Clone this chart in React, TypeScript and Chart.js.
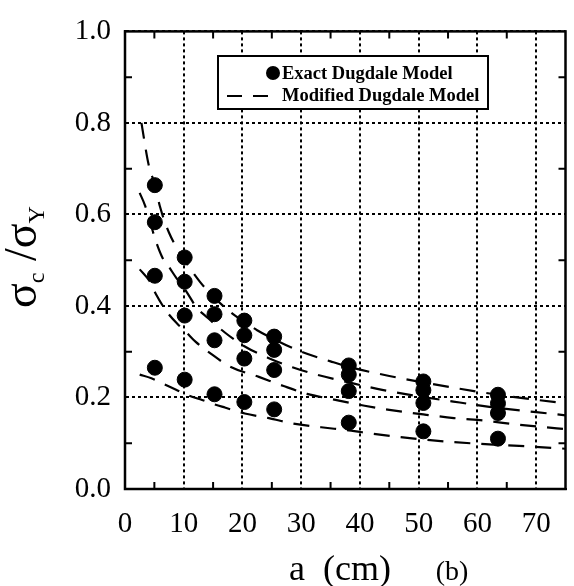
import React, { useEffect, useRef } from "react";
import { Chart, registerables } from "chart.js";
Chart.register(...registerables);

// crack half-lengths (cm)
const crackA = [5.08, 10.16, 15.24, 20.32, 25.4, 38.1, 50.8, 63.5];
// exact Dugdale model, four families
const exact1 = [0.664, 0.506, 0.422, 0.368, 0.333, 0.27, 0.235, 0.206];
const exact2 = [0.583, 0.453, 0.382, 0.336, 0.304, 0.25, 0.216, 0.187];
const exact3 = [0.466, 0.379, 0.325, 0.285, 0.26, 0.214, 0.188, 0.166];
const exact4 = [0.265, 0.239, 0.207, 0.19, 0.174, 0.145, 0.126, 0.11];

// modified Dugdale model curves
const mod1X = [2.8, 4, 5.08, 6, 7.5, 10.16, 12.8, 15.24, 18, 20.32, 22.5, 25.4, 30, 35, 38.1, 45, 50.8, 57, 63.5, 70, 75];
const mod1Y = [0.8, 0.71, 0.665, 0.615, 0.56, 0.5, 0.452, 0.418, 0.386, 0.365, 0.347, 0.327, 0.3, 0.279, 0.267, 0.247, 0.233, 0.219, 0.206, 0.195, 0.187];
const mod2X = [2.5, 3.4, 5.3, 6.4, 7.5, 8.7, 10.16, 12.3, 14, 17, 20.32, 24.3, 28.5, 32.6, 38.1, 44, 50.8, 57, 63.5, 70, 75];
const mod2Y = [0.647, 0.62, 0.54, 0.505, 0.485, 0.462, 0.437, 0.395, 0.375, 0.342, 0.312, 0.287, 0.266, 0.25, 0.233, 0.216, 0.201, 0.189, 0.177, 0.168, 0.161];
const mod3X = [2.5, 4.2, 5.3, 7.2, 8.9, 10.4, 12, 14.6, 17.8, 22.8, 27, 31, 35.4, 40.8, 45, 50.8, 56, 61.5, 66, 70.6, 75];
const mod3Y = [0.48, 0.454, 0.425, 0.386, 0.361, 0.343, 0.322, 0.296, 0.268, 0.245, 0.225, 0.208, 0.196, 0.182, 0.173, 0.163, 0.155, 0.149, 0.142, 0.136, 0.131];
const mod4X = [2.5, 4.5, 6.7, 8.7, 10.9, 12.8, 15, 17, 20.4, 24.5, 28.6, 33.4, 38.1, 42.7, 50.8, 55.5, 60, 64, 68.7, 75];
const mod4Y = [0.25, 0.242, 0.229, 0.217, 0.204, 0.196, 0.186, 0.178, 0.165, 0.155, 0.143, 0.135, 0.128, 0.12, 0.108, 0.103, 0.099, 0.096, 0.093, 0.088];

const xTicks = [0, 10, 20, 30, 40, 50, 60, 70];
const yTicks = [0, 0.2, 0.4, 0.6, 0.8, 1.0];
const xMinor = [5, 15, 25, 35, 45, 55, 65];
const yMinor = [0.1, 0.3, 0.5, 0.7, 0.9];

const legendLabels = ["Exact Dugdale Model", "Modified Dugdale Model"];

const SERIF = '"Liberation Serif", "Times New Roman", serif';

const pts = (xs: number[], ys: number[]) => xs.map((x, i) => ({ x, y: ys[i] }));

export default function App() {
  const ref = useRef<HTMLCanvasElement | null>(null);
  useEffect(() => {
    if (!ref.current) return;
    const exactData = [exact1, exact2, exact3, exact4].flatMap((ys) => pts(crackA, ys));
    const curveDs = [
      [mod1X, mod1Y],
      [mod2X, mod2Y],
      [mod3X, mod3Y],
      [mod4X, mod4Y],
    ].map(([xs, ys]) => ({
      type: "line" as const,
      data: pts(xs, ys),
      borderColor: "#000",
      borderWidth: 2.2,
      borderDash: [16, 11],
      pointRadius: 0,
      fill: false,
      cubicInterpolationMode: "monotone" as const,
      order: 2,
    }));

    const overlay = {
      id: "overlay",
      afterDraw(chart: any) {
        const { ctx, chartArea: a, scales } = chart;
        const xs = scales.x;
        const ys = scales.y;
        ctx.save();
        // frame
        ctx.strokeStyle = "#000";
        ctx.lineWidth = 2.5;
        ctx.setLineDash([]);
        ctx.strokeRect(a.left, a.top, a.right - a.left, a.bottom - a.top);
        // minor ticks
        ctx.lineWidth = 2;
        ctx.beginPath();
        for (const v of xMinor) {
          const px = xs.getPixelForValue(v);
          ctx.moveTo(px, a.bottom);
          ctx.lineTo(px, a.bottom - 7);
          ctx.moveTo(px, a.top);
          ctx.lineTo(px, a.top + 7);
        }
        for (const v of yMinor) {
          const py = ys.getPixelForValue(v);
          ctx.moveTo(a.left, py);
          ctx.lineTo(a.left + 7, py);
          ctx.moveTo(a.right, py);
          ctx.lineTo(a.right - 7, py);
        }
        ctx.stroke();

        // legend
        const bx = 218, by = 56, bw = 270, bh = 53;
        ctx.fillStyle = "#fff";
        ctx.fillRect(bx, by, bw, bh);
        ctx.lineWidth = 2;
        ctx.strokeRect(bx, by, bw, bh);
        ctx.fillStyle = "#000";
        ctx.font = `bold 18.5px ${SERIF}`;
        ctx.textBaseline = "middle";
        ctx.textAlign = "left";
        ctx.beginPath();
        ctx.arc(273, 73, 7, 0, Math.PI * 2);
        ctx.fill();
        ctx.fillText(legendLabels[0], 282, 74);
        ctx.lineWidth = 2.2;
        ctx.setLineDash([15, 11]);
        ctx.beginPath();
        ctx.moveTo(227, 96);
        ctx.lineTo(268, 96);
        ctx.stroke();
        ctx.setLineDash([]);
        ctx.fillText(legendLabels[1], 282, 96);

        // y-axis title (rotated)
        ctx.save();
        ctx.translate(26, 257);
        ctx.rotate(-Math.PI / 2);
        const big = `46px ${SERIF}`;
        const small = `24px ${SERIF}`;
        const parts: [string, string, number][] = [
          ["σ", big, 0],
          ["c", small, 8],
          [" /", big, 0],
          ["σ", big, 0],
          ["Y", small, 8],
        ];
        let total = 0;
        for (const [t, f] of parts) {
          ctx.font = f;
          total += ctx.measureText(t).width;
        }
        let cx = -total / 2;
        ctx.textAlign = "left";
        ctx.textBaseline = "alphabetic";
        for (const [t, f, dy] of parts) {
          ctx.font = f;
          ctx.fillText(t, cx, 10 + dy);
          cx += ctx.measureText(t).width;
        }
        ctx.restore();

        // x-axis title
        ctx.textAlign = "center";
        ctx.textBaseline = "alphabetic";
        ctx.font = `36px ${SERIF}`;
        ctx.fillText("a  (cm)", 340, 580);
        ctx.font = `28px ${SERIF}`;
        ctx.fillText("(b)", 452, 580);
        ctx.restore();
      },
    };

    const chart = new Chart(ref.current, {
      type: "scatter",
      data: {
        datasets: [
          {
            type: "scatter",
            data: exactData,
            backgroundColor: "#000",
            borderColor: "#000",
            pointRadius: 7.5,
            pointHoverRadius: 7.5,
            order: 1,
          },
          ...curveDs,
        ] as any,
      },
      options: {
        responsive: false,
        animation: false,
        events: [],
        layout: { padding: { top: 25, right: 3, left: 0, bottom: 0 } },
        plugins: { legend: { display: false }, tooltip: { enabled: false }, title: { display: false } },
        scales: {
          x: {
            type: "linear",
            min: 0,
            max: 75,
            afterBuildTicks: (s: any) => {
              s.ticks = xTicks.map((v) => ({ value: v }));
            },
            afterFit: (s: any) => {
              s.height = 97;
            },
            grid: { color: "#000", lineWidth: 2, drawTicks: false },
            border: { display: true, color: "#000", width: 2, dash: [3, 3] },
            ticks: {
              color: "#000",
              font: { family: SERIF, size: 29 },
              padding: 18,
              maxRotation: 0,
              autoSkip: false,
            },
          },
          y: {
            type: "linear",
            min: 0,
            max: 1,
            afterBuildTicks: (s: any) => {
              s.ticks = yTicks.map((v) => ({ value: v }));
            },
            afterFit: (s: any) => {
              s.width = 125;
            },
            grid: { color: "#000", lineWidth: 2, drawTicks: false },
            border: { display: true, color: "#000", width: 2, dash: [3, 3] },
            ticks: {
              color: "#000",
              font: { family: SERIF, size: 29 },
              padding: 14,
              autoSkip: false,
              callback: (v: any) => Number(v).toFixed(1),
            },
          },
        },
      },
      plugins: [overlay],
    } as any);
    return () => chart.destroy();
  }, []);
  return (
    <div style={{ position: "fixed", left: 0, top: 0, width: 574, height: 586, background: "#fff" }}>
      <canvas ref={ref} width={574} height={586} style={{ display: "block" }} />
    </div>
  );
}
